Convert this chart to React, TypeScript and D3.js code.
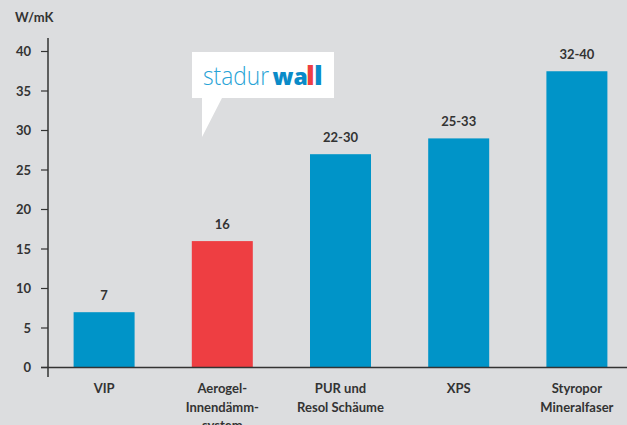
import React from "react";
import * as d3 from "d3";

const categories = ["VIP", "Aerogel-\nInnendämm-\nsystem", "PUR und\nResol Schäume", "XPS", "Styropor\nMineralfaser"];
const values = [7, 16, 27, 29, 37.5];
const valueLabels = ["7", "16", "22-30", "25-33", "32-40"];
const highlight = [false, true, false, false, false];
const yTicks = [0, 5, 10, 15, 20, 25, 30, 35, 40];
const unitLabel = "W/mK";

const W = 627;
const H = 425;
const BG = "#dcdddf";
const BLUE = "#0094c8";
const RED = "#ee3e42";
const TXT = "#333333";
const FONT = "Lato, 'Noto Sans', sans-serif";
const FS = 13;

export default function App() {
  const x = d3
    .scaleBand<string>()
    .domain(categories)
    .range([45, 636])
    .paddingInner(0.484)
    .paddingOuter(0.242);
  const y = d3.scaleLinear().domain([0, 40]).range([367.5, 51.5]);
  const axisX = 48;
  const logoFont = "'Open Sans', sans-serif";
  const logoBlue = "#0a8bc8";

  return (
    <div style={{ position: "absolute", left: 0, top: 0 }}>
      <svg width={W} height={H} style={{ display: "block", background: BG }}>
        <rect x={0} y={0} width={W} height={H} fill={BG} />
        <text x={15} y={22} fontFamily={FONT} fontWeight={700} fontSize={FS} fill={TXT}>
          {unitLabel}
        </text>
        {yTicks.map((t) => (
          <g key={t}>
            <line x1={axisX - 7} x2={axisX} y1={y(t)} y2={y(t)} stroke={TXT} strokeWidth={1.2} />
            <text
              x={31}
              y={y(t)}
              dy="0.35em"
              textAnchor="end"
              fontFamily={FONT}
              fontWeight={700}
              fontSize={FS}
              fill={TXT}
            >
              {t}
            </text>
          </g>
        ))}
        {categories.map((c, i) => {
          const bx = x(c)!;
          const bw = x.bandwidth();
          const top = y(values[i]);
          const lines = c.split("\n");
          return (
            <g key={c}>
              <rect x={bx} y={top} width={bw} height={y(0) - top} fill={highlight[i] ? RED : BLUE} />
              <text
                x={bx + bw / 2}
                y={top - 12}
                textAnchor="middle"
                fontFamily={FONT}
                fontWeight={700}
                fontSize={FS}
                fill={TXT}
              >
                {valueLabels[i]}
              </text>
              {lines.map((l, j) => (
                <text
                  key={j}
                  x={bx + bw / 2}
                  y={393 + j * 18.5}
                  textAnchor="middle"
                  fontFamily={FONT}
                  fontWeight={700}
                  fontSize={FS}
                  fill={TXT}
                >
                  {l}
                </text>
              ))}
            </g>
          );
        })}
        <line x1={axisX} x2={axisX} y1={38} y2={377} stroke={TXT} strokeWidth={1.5} />
        <line x1={41} x2={W} y1={y(0)} y2={y(0)} stroke={TXT} strokeWidth={1.5} />
        {/* callout */}
        <path d="M192,52 H334 V98 H222 L202,137 V98 H192 Z" fill="#ffffff" />
        <text
          x={203}
          y={85}
          fontFamily={logoFont}
          fontSize={26}
          fontWeight={300}
          fill="#27a3d6"
          textLength={66}
          lengthAdjust="spacingAndGlyphs"
        >
          stadur
        </text>
        <text x={272.5} y={85} fontFamily={logoFont} fontSize={23} fontWeight={800} fill={logoBlue}>
          wa
        </text>
        <text x={306} y={85} fontFamily={logoFont} fontSize={27} fontWeight={800} fill={RED}>
          l
        </text>
        <text x={314} y={85} fontFamily={logoFont} fontSize={27} fontWeight={800} fill={logoBlue}>
          l
        </text>
      </svg>
    </div>
  );
}
